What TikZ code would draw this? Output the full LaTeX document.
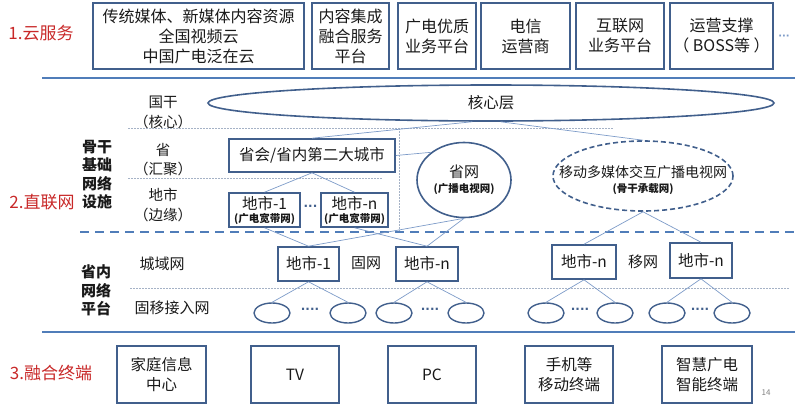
\documentclass[tikz,border=0pt]{standalone}
\usepackage{fontspec}
\setmainfont{Noto Sans CJK SC}
\newfontfamily\dvfont{DejaVu Sans}
\usetikzlibrary{shapes.geometric}
\definecolor{boxc}{RGB}{65,95,140}
\definecolor{linec}{RGB}{125,155,200}
\definecolor{sepc}{RGB}{80,125,185}
\definecolor{dotc}{RGB}{165,178,198}
\definecolor{redc}{RGB}{200,40,40}
\definecolor{txt}{RGB}{25,25,25}
\newcommand{\smbold}[1]{{\bfseries\fontsize{10.5}{12}\selectfont #1}}
\tikzset{
  box/.style={draw=boxc, line width=1.6pt, inner sep=0pt, align=center, text=txt, font=\fontsize{15.5}{20}\selectfont},
  tbox/.style={box, font=\fontsize{16}{20}\selectfont},
  conn/.style={draw=linec, line width=0.7pt},
  sep/.style={draw=sepc, line width=2pt},
  dotl/.style={draw=dotc, line width=0.8pt, dash pattern=on 1.5pt off 1.5pt},
  lab/.style={text=txt, align=center, inner sep=0pt, font=\fontsize{15}{19}\selectfont},
  side/.style={text=txt, align=center, inner sep=0pt, font=\fontsize{14.5}{19}\selectfont},
  bld/.style={text=txt, align=center, inner sep=0pt, font=\bfseries\fontsize{15}{18.5}\selectfont},
  sec/.style={text=redc, inner sep=0pt, font=\fontsize{17}{20}\selectfont},
  acc/.style={draw=boxc, line width=1.4pt, ellipse, minimum width=36pt, minimum height=20pt, inner sep=0pt},
  dots/.style={text=boxc, inner sep=0pt, font=\dvfont\bfseries\fontsize{12}{12}\selectfont},
}
\begin{document}
\begin{tikzpicture}[x=1pt,y=-1pt]
\useasboundingbox (0,0) rectangle (795,405);

% ---- section 1
\node[sec] (s1) at (41,33) {1.云服务};
\node[tbox, minimum width=211pt, minimum height=66pt] (t1) at (198.5,36) {传统媒体、新媒体内容资源\\全国视频云\\中国广电泛在云};
\node[tbox, minimum width=77pt, minimum height=66pt] (t2) at (350.5,36) {内容集成\\融合服务\\平台};
\node[tbox, minimum width=78pt, minimum height=66pt] (t3) at (437,36) {广电优质\\业务平台};
\node[tbox, minimum width=89pt, minimum height=66pt] (t4) at (525.5,36) {电信\\运营商};
\node[tbox, minimum width=88pt, minimum height=66pt] (t5) at (620,36) {互联网\\业务平台};
\node[tbox, minimum width=103pt, minimum height=66pt] (t6) at (721.5,36) {运营支撑\\（ BOSS等 ）};
\node[dots, text=linec, font=\dvfont\bfseries\fontsize{10}{10}\selectfont] (tdots) at (784,37) {···};
\draw[sep] (42,78) -- (795,78);

% ---- section 2
\node[sec] (s2) at (42,202) {2.直联网};
\node[bld] (bb) at (97,174.5) {骨干\\基础\\网络\\设施};
\node[side] (l1) at (163,102) {国干};
\node[side] (l2) at (163,122) {（核心）};
\node[side] (l3) at (163,150) {省};
\node[side] (l4) at (163,169) {（汇聚）};
\node[side] (l5) at (163,195) {地市};
\node[side] (l6) at (163,215) {（边缘）};

\draw[dotl] (128,128) -- (613,128);
\draw[dotl] (128,178) -- (382,178);
\draw[dotl] (399,128) -- (399,231);

\node[draw=boxc, line width=1.6pt, ellipse, minimum width=566pt, minimum height=36pt, inner sep=0pt, text=txt, font=\fontsize{15.5}{19}\selectfont] (core) at (491,103) {核心层};

\node[box, minimum width=166pt, minimum height=33pt] (prov) at (312,155.5) {省会/省内第二大城市};
\node[box, minimum width=71pt, minimum height=34pt, font=\fontsize{15.5}{14}\selectfont] (dsA) at (264.5,210) {地市-1\\[-1pt]\smbold{(广电宽带网)}};
\node[box, minimum width=67pt, minimum height=34pt, font=\fontsize{15.5}{14}\selectfont] (dsB) at (354.5,210) {地市-n\\[-1pt]\smbold{(广电宽带网)}};
\node[dots] (dsdots) at (310.5,208) {···};

\node[draw=boxc, line width=1.6pt, ellipse, minimum width=94pt, minimum height=75pt, inner sep=0pt, align=center, text=txt, font=\fontsize{15}{15}\selectfont] (sw) at (464,180) {省网\\\smbold{(广播电视网)}};

\node[draw=boxc, line width=1.6pt, ellipse, dash pattern=on 5pt off 3pt, minimum width=180pt, minimum height=70pt, inner sep=0pt] (mob) at (643,176) {};
\node[lab, font=\fontsize{14}{15}\selectfont] (mobt) at (643,180) {移动多媒体交互广播电视网\\\smbold{(骨干承载网)}};

\draw[sepc, line width=2.2pt, dash pattern=on 9pt off 6pt] (80,232) -- (795,232);

% ---- provincial platform
\node[bld] (pp) at (96,290.5) {省内\\网络\\平台};
\node[lab] (cy) at (162,264) {城域网};
\node[lab] (acc) at (172,308) {固移接入网};
\draw[dotl] (130,288) -- (790,288);

\node[box, minimum width=61pt, minimum height=34pt] (cityA) at (308.5,264) {地市-1};
\node[box, minimum width=62pt, minimum height=34pt] (cityB) at (427,264) {地市-n};
\node[lab] (gw) at (366,263) {固网};
\node[box, minimum width=64pt, minimum height=34pt] (mA) at (584,262) {地市-n};
\node[box, minimum width=62pt, minimum height=35pt] (mB) at (701,260.5) {地市-n};
\node[lab] (yw) at (643,262) {移网};

\node[acc] (e1) at (272,313) {};
\node[acc] (e2) at (348,313) {};
\node[acc] (e3) at (394,313) {};
\node[acc] (e4) at (466,313) {};
\node[acc] (e5) at (546,313) {};
\node[acc] (e6) at (615,313) {};
\node[acc] (e7) at (667,313) {};
\node[acc] (e8) at (732,313) {};
\node[dots] (d1) at (310,311) {····};
\node[dots] (d2) at (430,311) {····};
\node[dots] (d3) at (580,311) {····};
\node[dots] (d4) at (700,311) {····};

% ---- connectors
\draw[conn] (prov.north) -- (core.-135);
\draw[conn] (core.-63) -- (mob.north);
\draw[conn] (prov.east) -- (sw.140);
\draw[conn] (prov.south) -- (dsA.north);
\draw[conn] (prov.south) -- (dsB.north);
\draw[conn] (dsA.south) -- (cityA.north);
\draw[conn] (sw.south) -- (cityA.north);
\draw[conn] (dsB.south) -- (cityB.north);
\draw[conn] (sw.south) -- (cityB.north);
\draw[conn] (mob.south) -- (mA.north);
\draw[conn] (mob.south) -- (mB.north);
\draw[conn] (cityA.south) -- (e1.north);
\draw[conn] (cityA.south) -- (e2.north);
\draw[conn] (cityB.south) -- (e3.north);
\draw[conn] (cityB.south) -- (e4.north);
\draw[conn] (mA.south) -- (e5.north);
\draw[conn] (mA.south) -- (e6.north);
\draw[conn] (mB.south) -- (e7.north);
\draw[conn] (mB.south) -- (e8.north);

\draw[sep] (42,332) -- (795,332);

% ---- section 3
\node[sec] (s3) at (51,373) {3.融合终端};
\node[box, line width=1.4pt, minimum width=89pt, minimum height=57pt] (b1) at (161.5,374.5) {家庭信息\\中心};
\node[box, line width=1.4pt, minimum width=88pt, minimum height=57pt] (b2) at (295,374.5) {TV};
\node[box, line width=1.4pt, minimum width=88pt, minimum height=57pt] (b3) at (432,374.5) {PC};
\node[box, line width=1.4pt, minimum width=88pt, minimum height=57pt] (b4) at (569,374.5) {手机等\\移动终端};
\node[box, line width=1.4pt, minimum width=90pt, minimum height=57pt] (b5) at (707,374.5) {智慧广电\\智能终端};
\node[text=gray, inner sep=0pt, font=\fontsize{8}{9}\selectfont] (pg) at (766,393) {14};
\end{tikzpicture}
\end{document}
